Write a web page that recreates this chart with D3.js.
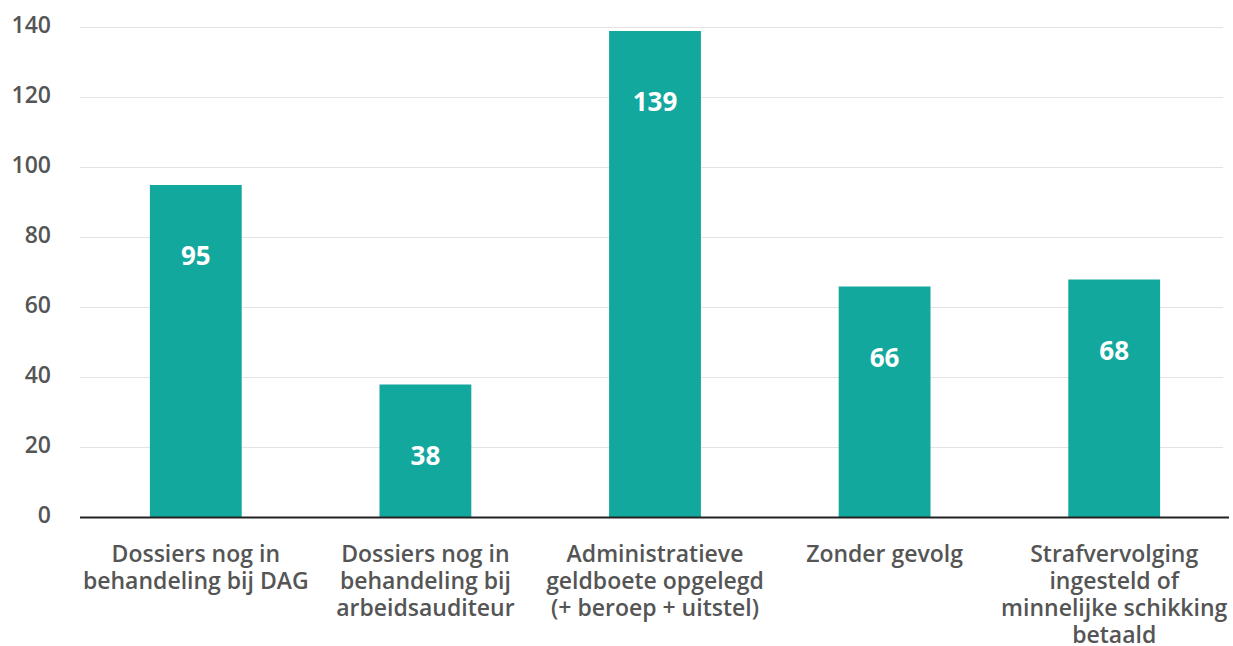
<!DOCTYPE html>
<html>
<head>
<meta charset="utf-8">
<script src="https://cdn.jsdelivr.net/npm/d3@7"></script>
<style>
  body { margin: 0; background: #fff; }
  svg { display: block; font-family: "Open Sans", sans-serif; }
</style>
</head>
<body>
<svg id="chart" width="1233" height="646"></svg>
<script>
// chart values
var categories = [
  ["Dossiers nog in", "behandeling bij DAG"],
  ["Dossiers nog in", "behandeling bij", "arbeidsauditeur"],
  ["Administratieve", "geldboete opgelegd", "(+ beroep + uitstel)"],
  ["Zonder gevolg"],
  ["Strafvervolging", "ingesteld of", "minnelijke schikking", "betaald"]
];
var values = [95, 38, 139, 66, 68];
var yTicks = [0, 20, 40, 60, 80, 100, 120, 140];

var margin = {top: 27.5, right: 4, bottom: 128.5, left: 81},
	width = 1233 - margin.left - margin.right,
	height = 646 - margin.top - margin.bottom;

var svg = d3.select("#chart");
var g = svg.append("g")
	.attr("transform", "translate(" + margin.left + "," + margin.top + ")");

var x = d3.scaleBand()
	.domain(d3.range(values.length))
	.range([0, width])
	.paddingInner(0.6)
	.paddingOuter(0.3);

var y = d3.scaleLinear()
	.domain([0, 140])
	.range([height, 0]);

// gridlines
g.append("g")
	.selectAll("line")
	.data(yTicks.slice(1))
	.enter().append("line")
	.attr("x1", -1)
	.attr("x2", width - 6)
	.attr("y1", function(d){ return y(d); })
	.attr("y2", function(d){ return y(d); })
	.attr("stroke", "#e3e3e3")
	.attr("stroke-width", 1);

// y axis labels
var yAxis = g.append("g")
	.call(d3.axisLeft(y).tickValues(yTicks).tickSize(0).tickPadding(0));
yAxis.select(".domain").remove();
yAxis.selectAll("text")
	.attr("x", -30)
	.attr("dy", "0.2em")
	.attr("fill", "#555")
	.style("font-size", "23px")
	.style("font-weight", 600)
	.style("font-family", "'Open Sans', sans-serif")
	.attr("text-anchor", "end");

// bars
g.selectAll(".bar")
	.data(values)
	.enter().append("rect")
	.attr("class", "bar")
	.attr("x", function(d, i){ return x(i); })
	.attr("y", function(d){ return y(d); })
	.attr("width", x.bandwidth())
	.attr("height", function(d){ return height - y(d); })
	.attr("fill", "#12a89d");

// value labels
g.selectAll(".val")
	.data(values)
	.enter().append("text")
	.attr("class", "val")
	.attr("x", function(d, i){ return x(i) + x.bandwidth() / 2; })
	.attr("y", function(d){ return y(d) + 80; })
	.attr("text-anchor", "middle")
	.attr("fill", "#fff")
	.style("font-size", "26px")
	.style("font-weight", 700)
	.text(function(d){ return d; });

// baseline
g.append("line")
	.attr("x1", -1)
	.attr("x2", width)
	.attr("y1", height)
	.attr("y2", height)
	.attr("stroke", "#222")
	.attr("stroke-width", 2);

// category labels
var cat = g.selectAll(".cat")
	.data(categories)
	.enter().append("text")
	.attr("class", "cat")
	.attr("x", function(d, i){ return x(i) + x.bandwidth() / 2; })
	.attr("y", height + 44)
	.attr("text-anchor", "middle")
	.attr("fill", "#555")
	.style("font-size", "23px")
	.style("font-weight", 600);

cat.selectAll("tspan")
	.data(function(d){ return d; })
	.enter().append("tspan")
	.attr("x", function(){ return d3.select(this.parentNode).attr("x"); })
	.attr("dy", function(d, i){ return i ? 27 : 0; })
	.text(function(d){ return d; });
</script>
</body>
</html>
